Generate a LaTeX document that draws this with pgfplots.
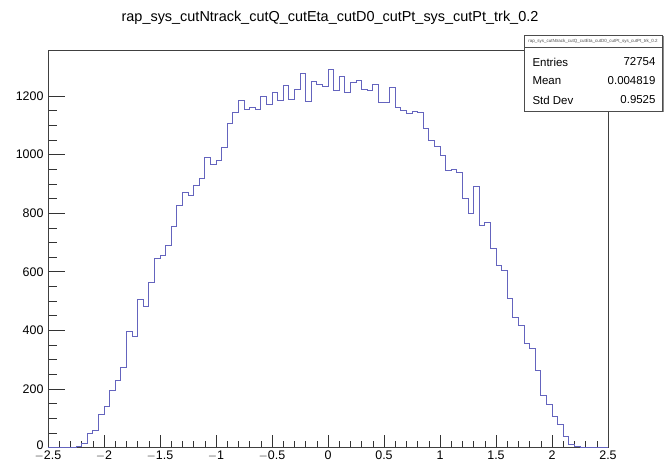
\documentclass[border=0pt]{standalone}
\usepackage{fontspec}
\setmainfont{Liberation Sans}
\usepackage{pgfplots}
\pgfplotsset{compat=1.18}
\definecolor{histc}{RGB}{100,100,190}
\pgfplotstableread{
x y
-2.50 0
-2.45 0
-2.40 0
-2.35 1
-2.30 2
-2.25 4
-2.20 14
-2.15 50
-2.10 60
-2.05 112
-2.00 139
-1.95 196
-1.90 230
-1.85 273
-1.80 395
-1.75 378
-1.70 505
-1.65 482
-1.60 565
-1.55 645
-1.50 656
-1.45 691
-1.40 755
-1.35 828
-1.30 870
-1.25 862
-1.20 895
-1.15 918
-1.10 989
-1.05 966
-1.00 981
-0.95 1025
-0.90 1107
-0.85 1145
-0.80 1184
-0.75 1156
-0.70 1161
-0.65 1156
-0.60 1198
-0.55 1173
-0.50 1212
-0.45 1184
-0.40 1235
-0.35 1190
-0.30 1224
-0.25 1278
-0.20 1181
-0.15 1251
-0.10 1241
-0.05 1234
0.00 1292
0.05 1220
0.10 1266
0.15 1212
0.20 1246
0.25 1252
0.30 1224
0.35 1218
0.40 1241
0.45 1178
0.50 1180
0.55 1229
0.60 1161
0.65 1152
0.70 1141
0.75 1148
0.80 1144
0.85 1088
0.90 1050
0.95 1027
1.00 997
1.05 946
1.10 951
1.15 940
1.20 849
1.25 800
1.30 891
1.35 758
1.40 770
1.45 679
1.50 622
1.55 605
1.60 509
1.65 446
1.70 418
1.75 356
1.80 338
1.85 264
1.90 179
1.95 148
2.00 105
2.05 78
2.10 37
2.15 12
2.20 4
2.25 2
2.30 1
2.35 0
2.40 0
2.45 0
2.50 0
}\histdata
\begin{document}
\begin{tikzpicture}
\path[use as bounding box] (-48bp,-19.5bp) rectangle (616bp,447.5bp);
\begin{axis}[at={(0,0)}, anchor=south west, scale only axis,
  width=560bp, height=397.5bp,
  xmin=-2.5, xmax=2.5, ymin=0, ymax=1357,
  xtick={-2.5,-2,-1.5,-1,-0.5,0,0.5,1,1.5,2,2.5},
  xticklabels={$-$2.5,$-$2,$-$1.5,$-$1,$-$0.5,0,0.5,1,1.5,2,2.5},
  minor x tick num=4,
  ytick={0,200,400,600,800,1000,1200},
  yticklabels={\raisebox{4bp}{0},200,400,600,800,1000,1200},
  minor y tick num=3,
  xtick pos=bottom, ytick pos=left, tick align=inside,
  xtick style={/pgfplots/major tick length=12bp,/pgfplots/minor tick length=6bp,black!80,line width=0.5bp},
  ytick style={/pgfplots/major tick length=17bp,/pgfplots/minor tick length=8.5bp,black!80,line width=0.5bp},
  axis line style={black!75, line width=0.6bp},
  ticklabel style={font=\fontsize{12.5}{14}\selectfont},
  yticklabel style={xshift=-1bp},
  xticklabel style={yshift=0bp},
]
\addplot[const plot, histc, line width=0.65bp] table[x=x,y=y] {\histdata};
\end{axis}
\node[font=\fontsize{14.5}{16}\selectfont] at (282bp,429.5bp) {rap\_sys\_cutNtrack\_cutQ\_cutEta\_cutD0\_cutPt\_sys\_cutPt\_trk\_0.2};
\fill[black!45] (477.5bp,335bp) rectangle (615.5bp,411bp);
\draw[black!70, line width=0.6bp, fill=white] (476bp,336.5bp) rectangle (614bp,412.5bp);
\draw[black!70, line width=0.5bp] (476bp,400.5bp) -- (614bp,400.5bp);
\node[font=\fontsize{4.5}{5}\selectfont, text=black!70] at (545bp,406.5bp) {rap\_sys\_cutNtrack\_cutQ\_cutEta\_cutD0\_cutPt\_sys\_cutPt\_trk\_0.2};
\node[font=\fontsize{11.5}{13}\selectfont, anchor=west] at (481bp,385.5bp) {Entries};
\node[font=\fontsize{11.5}{13}\selectfont, anchor=east] at (611bp,385.5bp) {72754};
\node[font=\fontsize{11.5}{13}\selectfont, anchor=west] at (481bp,366.5bp) {Mean};
\node[font=\fontsize{11.5}{13}\selectfont, anchor=east] at (611bp,366.5bp) {0.004819};
\node[font=\fontsize{11.5}{13}\selectfont, anchor=west] at (481bp,347.5bp) {Std Dev};
\node[font=\fontsize{11.5}{13}\selectfont, anchor=east] at (611bp,347.5bp) {0.9525};
\end{tikzpicture}
\end{document}
